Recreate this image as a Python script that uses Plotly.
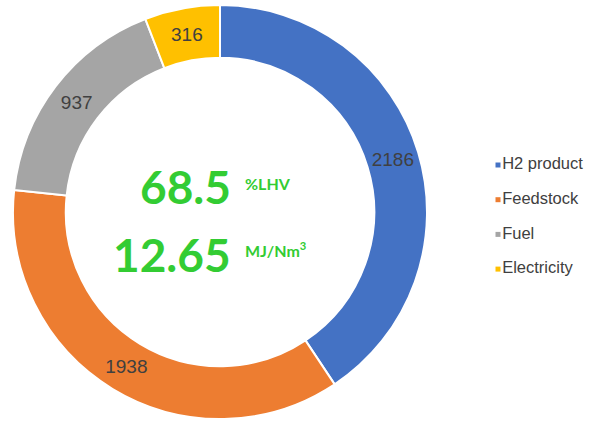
import plotly.graph_objects as go

# slice data
labels = ["H2 product", "Feedstock", "Fuel", "Electricity"]
values = [2186, 1938, 937, 316]
colors = ["#4472C4", "#ED7D31", "#A5A5A5", "#FFC000"]

# centre summary
efficiency = "68.5"
efficiency_unit = "%LHV"
energy = "12.65"
energy_unit = "MJ/Nm<sup>3</sup>"

W, H = 604, 423
GREEN = "#33CC33"
GREY_TXT = "#404040"

fig = go.Figure()

fig.add_trace(go.Pie(
    labels=labels,
    values=values,
    marker=dict(colors=colors, line=dict(color="white", width=2)),
    hole=0.745,
    sort=False,
    direction="clockwise",
    rotation=0,
    textinfo="value",
    textposition="inside",
    insidetextorientation="horizontal",
    textfont=dict(family="Liberation Sans", size=19, color=GREY_TXT),
    domain=dict(x=[12 / W, 428 / W], y=[1 - 419 / H, 1 - 5 / H]),
    showlegend=False,
    hoverinfo="label+value+percent",
))

# hand-made legend on a hidden axis so the spacing can match
fig.add_trace(go.Scatter(
    x=[0] * len(labels),
    y=list(range(len(labels))),
    mode="markers+text",
    marker=dict(symbol="square", size=5, color=colors),
    text=labels,
    textposition="middle right",
    textfont=dict(family="Liberation Sans", size=16.5, color=GREY_TXT),
    showlegend=False,
    hoverinfo="skip",
    cliponaxis=False,
))

step = 34.7
top = 165
fig.update_xaxes(domain=[0, 1], range=[-498, 106], visible=False, fixedrange=True)
fig.update_yaxes(domain=[0, 1], range=[(H - top) / step, -top / step],
                 visible=False, fixedrange=True)

cx = 233 / W
ux = 243 / W
fig.add_annotation(x=cx, y=1 - 186 / H, xref="paper", yref="paper",
                   text="<b>" + efficiency + "</b>", showarrow=False,
                   xanchor="right", yanchor="middle",
                   font=dict(family="Lato", size=46, color=GREEN))
fig.add_annotation(x=ux, y=1 - 184 / H, xref="paper", yref="paper",
                   text="<b>" + efficiency_unit + "</b>", showarrow=False,
                   xanchor="left", yanchor="middle",
                   font=dict(family="Lato", size=16, color=GREEN))
fig.add_annotation(x=cx, y=1 - 254 / H, xref="paper", yref="paper",
                   text="<b>" + energy + "</b>", showarrow=False,
                   xanchor="right", yanchor="middle",
                   font=dict(family="Lato", size=46, color=GREEN))
fig.add_annotation(x=ux, y=1 - 250 / H, xref="paper", yref="paper",
                   text="<b>" + energy_unit + "</b>", showarrow=False,
                   xanchor="left", yanchor="middle",
                   font=dict(family="Lato", size=16, color=GREEN))

fig.update_layout(
    width=W,
    height=H,
    margin=dict(l=0, r=0, t=0, b=0),
    paper_bgcolor="white",
    plot_bgcolor="rgba(0,0,0,0)",
)

# drop the browser's default body margin so the figure sits at 0,0
fig.write_html("out.html", config={"displayModeBar": False},
               post_script="document.body.style.margin='0px';")
